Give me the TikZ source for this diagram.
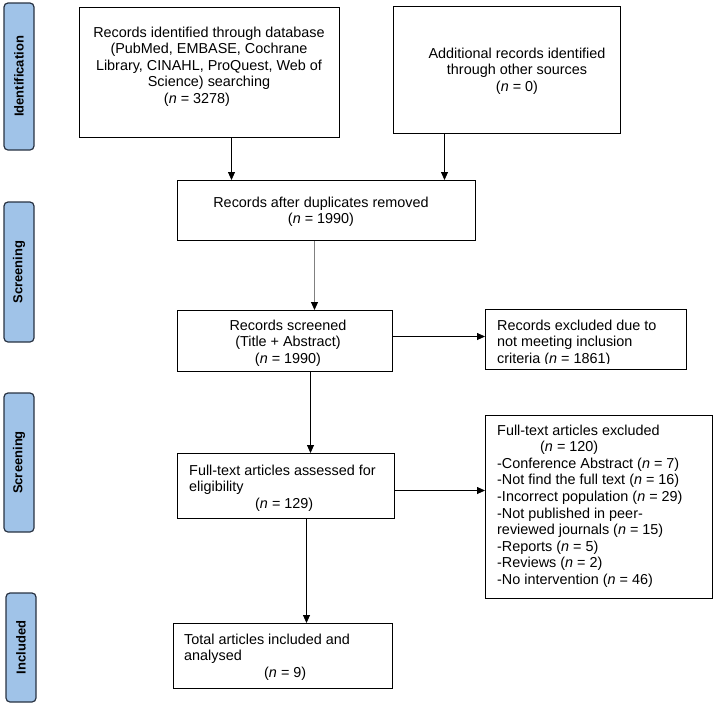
\documentclass[tikz,border=0pt]{standalone}
\usepackage{fontspec}
\setmainfont{Liberation Sans}
\usetikzlibrary{arrows.meta,calc}
\definecolor{lblfill}{RGB}{160,195,232}
\definecolor{lbldraw}{RGB}{40,50,66}
\tikzset{
  box/.style={draw=black,line width=1pt,inner sep=0pt,anchor=north west},
  txt/.style={inner sep=0pt,font=\fontsize{14.4}{16.6}\selectfont},
  lbl/.style={draw=lbldraw,fill=lblfill,line width=1.2pt,rounded corners=4pt,rotate=90,
    minimum height=30pt,inner sep=0pt,font=\fontsize{13}{15}\selectfont\bfseries},
  arr/.style={draw=black,line width=0.8pt,-{Triangle[length=8pt,width=7pt]}},
  grayarr/.style={draw=black!50,line width=1pt,-{Triangle[length=8pt,width=7pt,color=black]}}
}
\begin{document}
\begin{tikzpicture}[x=1pt,y=-1pt]
\useasboundingbox (0,0) rectangle (713,705);
% side labels
\node[lbl,minimum width=147pt] (L1) at (19,76.5) {Identification};
\node[lbl,minimum width=140pt] (L2) at (19,272) {Screening};
\node[lbl,minimum width=139pt] (L3) at (19,462.5) {Screening};
\node[lbl,minimum width=109pt] (L4) at (21,647.5) {Included};
% boxes
\node[box,minimum width=260pt,minimum height=130pt] (A) at (79,7) {};
\node[box,minimum width=227pt,minimum height=127pt] (B) at (393,6) {};
\node[box,minimum width=298pt,minimum height=60pt] (C) at (177,180) {};
\node[box,minimum width=215pt,minimum height=61pt] (D) at (177,310) {};
\node[box,minimum width=201pt,minimum height=60pt] (E) at (485,309) {};
\node[box,minimum width=217pt,minimum height=65pt] (F) at (177,453) {};
\node[box,minimum width=227pt,minimum height=183pt] (G) at (485,415) {};
\node[box,minimum width=219pt,minimum height=65pt] (H) at (173,623) {};
% texts
\node[txt,align=center,anchor=north] (tA) at (209,26.5) {Records identified through database\\(PubMed, EMBASE, Cochrane\\Library, CINAHL, ProQuest, Web of\\Science) searching\\(\textit{n} = 3278)\hspace*{24pt}};
\node[txt,align=center,anchor=north] (tB) at (517,47.5) {Additional records identified\\through other sources\\(\textit{n} = 0)};
\node[txt,align=center,anchor=north] (tC) at (321,196.5) {Records after duplicates removed\\(\textit{n} = 1990)};
\node[txt,align=center,anchor=north] (tD) at (288,319.5) {Records screened\\(Title + Abstract)\\(\textit{n} = 1990)};
\begin{scope}
\clip (486,310) rectangle (685,363.6);
\node[txt,align=left,anchor=north west] (tE) at (497,319.5) {Records excluded due to\\not meeting inclusion\\criteria (\textit{n} = 1861)};
\end{scope}
\node[txt,align=left,anchor=north west] (tF) at (189,464.5) {Full-text articles assessed for\\eligibility\\\hspace*{66pt}(\textit{n} = 129)};
\node[txt,align=left,anchor=north west] (tG) at (497,424.5) {Full-text articles excluded\\\hspace*{43pt}(\textit{n} = 120)\\-Conference Abstract (\textit{n} = 7)\\-Not find the full text (\textit{n} = 16)\\-Incorrect population (\textit{n} = 29)\\-Not published in peer-\\reviewed journals (\textit{n} = 15)\\-Reports (\textit{n} = 5)\\-Reviews (\textit{n} = 2)\\-No intervention (\textit{n} = 46)};
\node[txt,align=left,anchor=north west] (tH) at (184,633.5) {Total articles included and\\analysed\\\hspace*{80pt}(\textit{n} = 9)};
% arrows
\draw[arr] ([xshift=22pt]A.south) -- ([xshift=22pt]A.south |- C.north);
\draw[arr] ([xshift=-62.5pt]B.south) -- ([xshift=-62.5pt]B.south |- C.north);
\draw[grayarr] ([xshift=-12pt]C.south) -- ([xshift=-12pt]C.south |- D.north);
\draw[arr] ([yshift=4.5pt]D.east) -- ([yshift=4.5pt]D.east -| E.west);
\draw[arr] ([xshift=25.5pt]D.south) -- ([xshift=25.5pt]D.south |- F.north);
\draw[arr] ([yshift=-4.5pt]F.east) -- ([yshift=-4.5pt]F.east -| G.west);
\draw[arr] ([xshift=20.5pt]F.south) -- ([xshift=20.5pt]F.south |- H.north);
\end{tikzpicture}
\end{document}
